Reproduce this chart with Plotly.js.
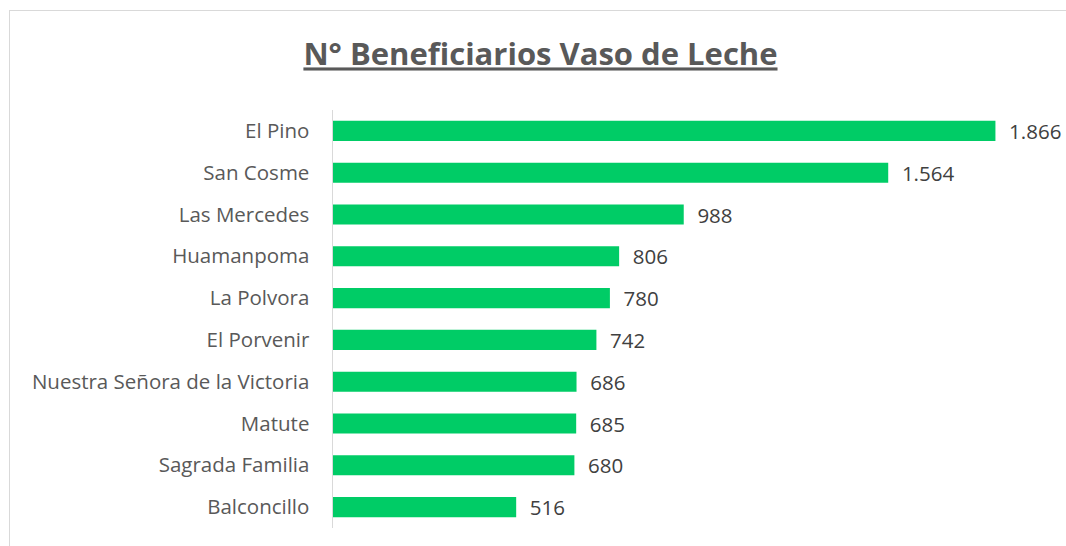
<!DOCTYPE html>
<html><head><meta charset="utf-8">
<script src="https://cdn.plot.ly/plotly-3.0.1.min.js"></script>
<style>html,body{margin:0;padding:0;overflow:hidden;background:#fff}
#frame{position:absolute;left:9px;top:10px;width:1100px;height:600px;border:1.5px solid #d9d9d9;pointer-events:none}
#chart{width:1066px;height:546px}</style>
</head><body>
<div id="chart"></div><div id="frame"></div>
<script>
const categories = ["El Pino","San Cosme","Las Mercedes","Huamanpoma","La Polvora","El Porvenir","Nuestra Señora de la Victoria","Matute","Sagrada Familia","Balconcillo"];
const beneficiarios = [1866,1564,988,806,780,742,686,685,680,516];

Plotly.newPlot('chart',[{
  type:'bar', orientation:'h', x:beneficiarios, y:categories,
  marker:{color:'#00cc66'},
  texttemplate:'\u00a0\u00a0%{x:,}', textposition:'outside', cliponaxis:false, constraintext:'none',
  textfont:{family:'Open Sans, Liberation Sans, sans-serif', size:20.5, color:'#404040'},
  hoverinfo:'none'
}],{
  width:1066, height:546,
  margin:{l:333,r:23,t:110,b:18},
  separators:',.',
  bargap:0.52,
  paper_bgcolor:'#fff', plot_bgcolor:'#fff',
  showlegend:false,
  title:{text:'<b>N° Beneficiarios Vaso de Leche</b>', x:0.507, xanchor:'center', y:0.9, yanchor:'middle',
    font:{family:'Open Sans, Liberation Sans, sans-serif', size:31, color:'#595959', lineposition:'under'}},
  xaxis:{range:[0,2000], visible:false, fixedrange:true},
  yaxis:{autorange:'reversed', showline:true, linecolor:'#d9d9d9', linewidth:1.5, showgrid:false, ticks:'',
    ticklabelstandoff:18,
    tickfont:{family:'Open Sans, Liberation Sans, sans-serif', size:20.5, color:'#595959'}}
},{staticPlot:true});
</script>
</body></html>
